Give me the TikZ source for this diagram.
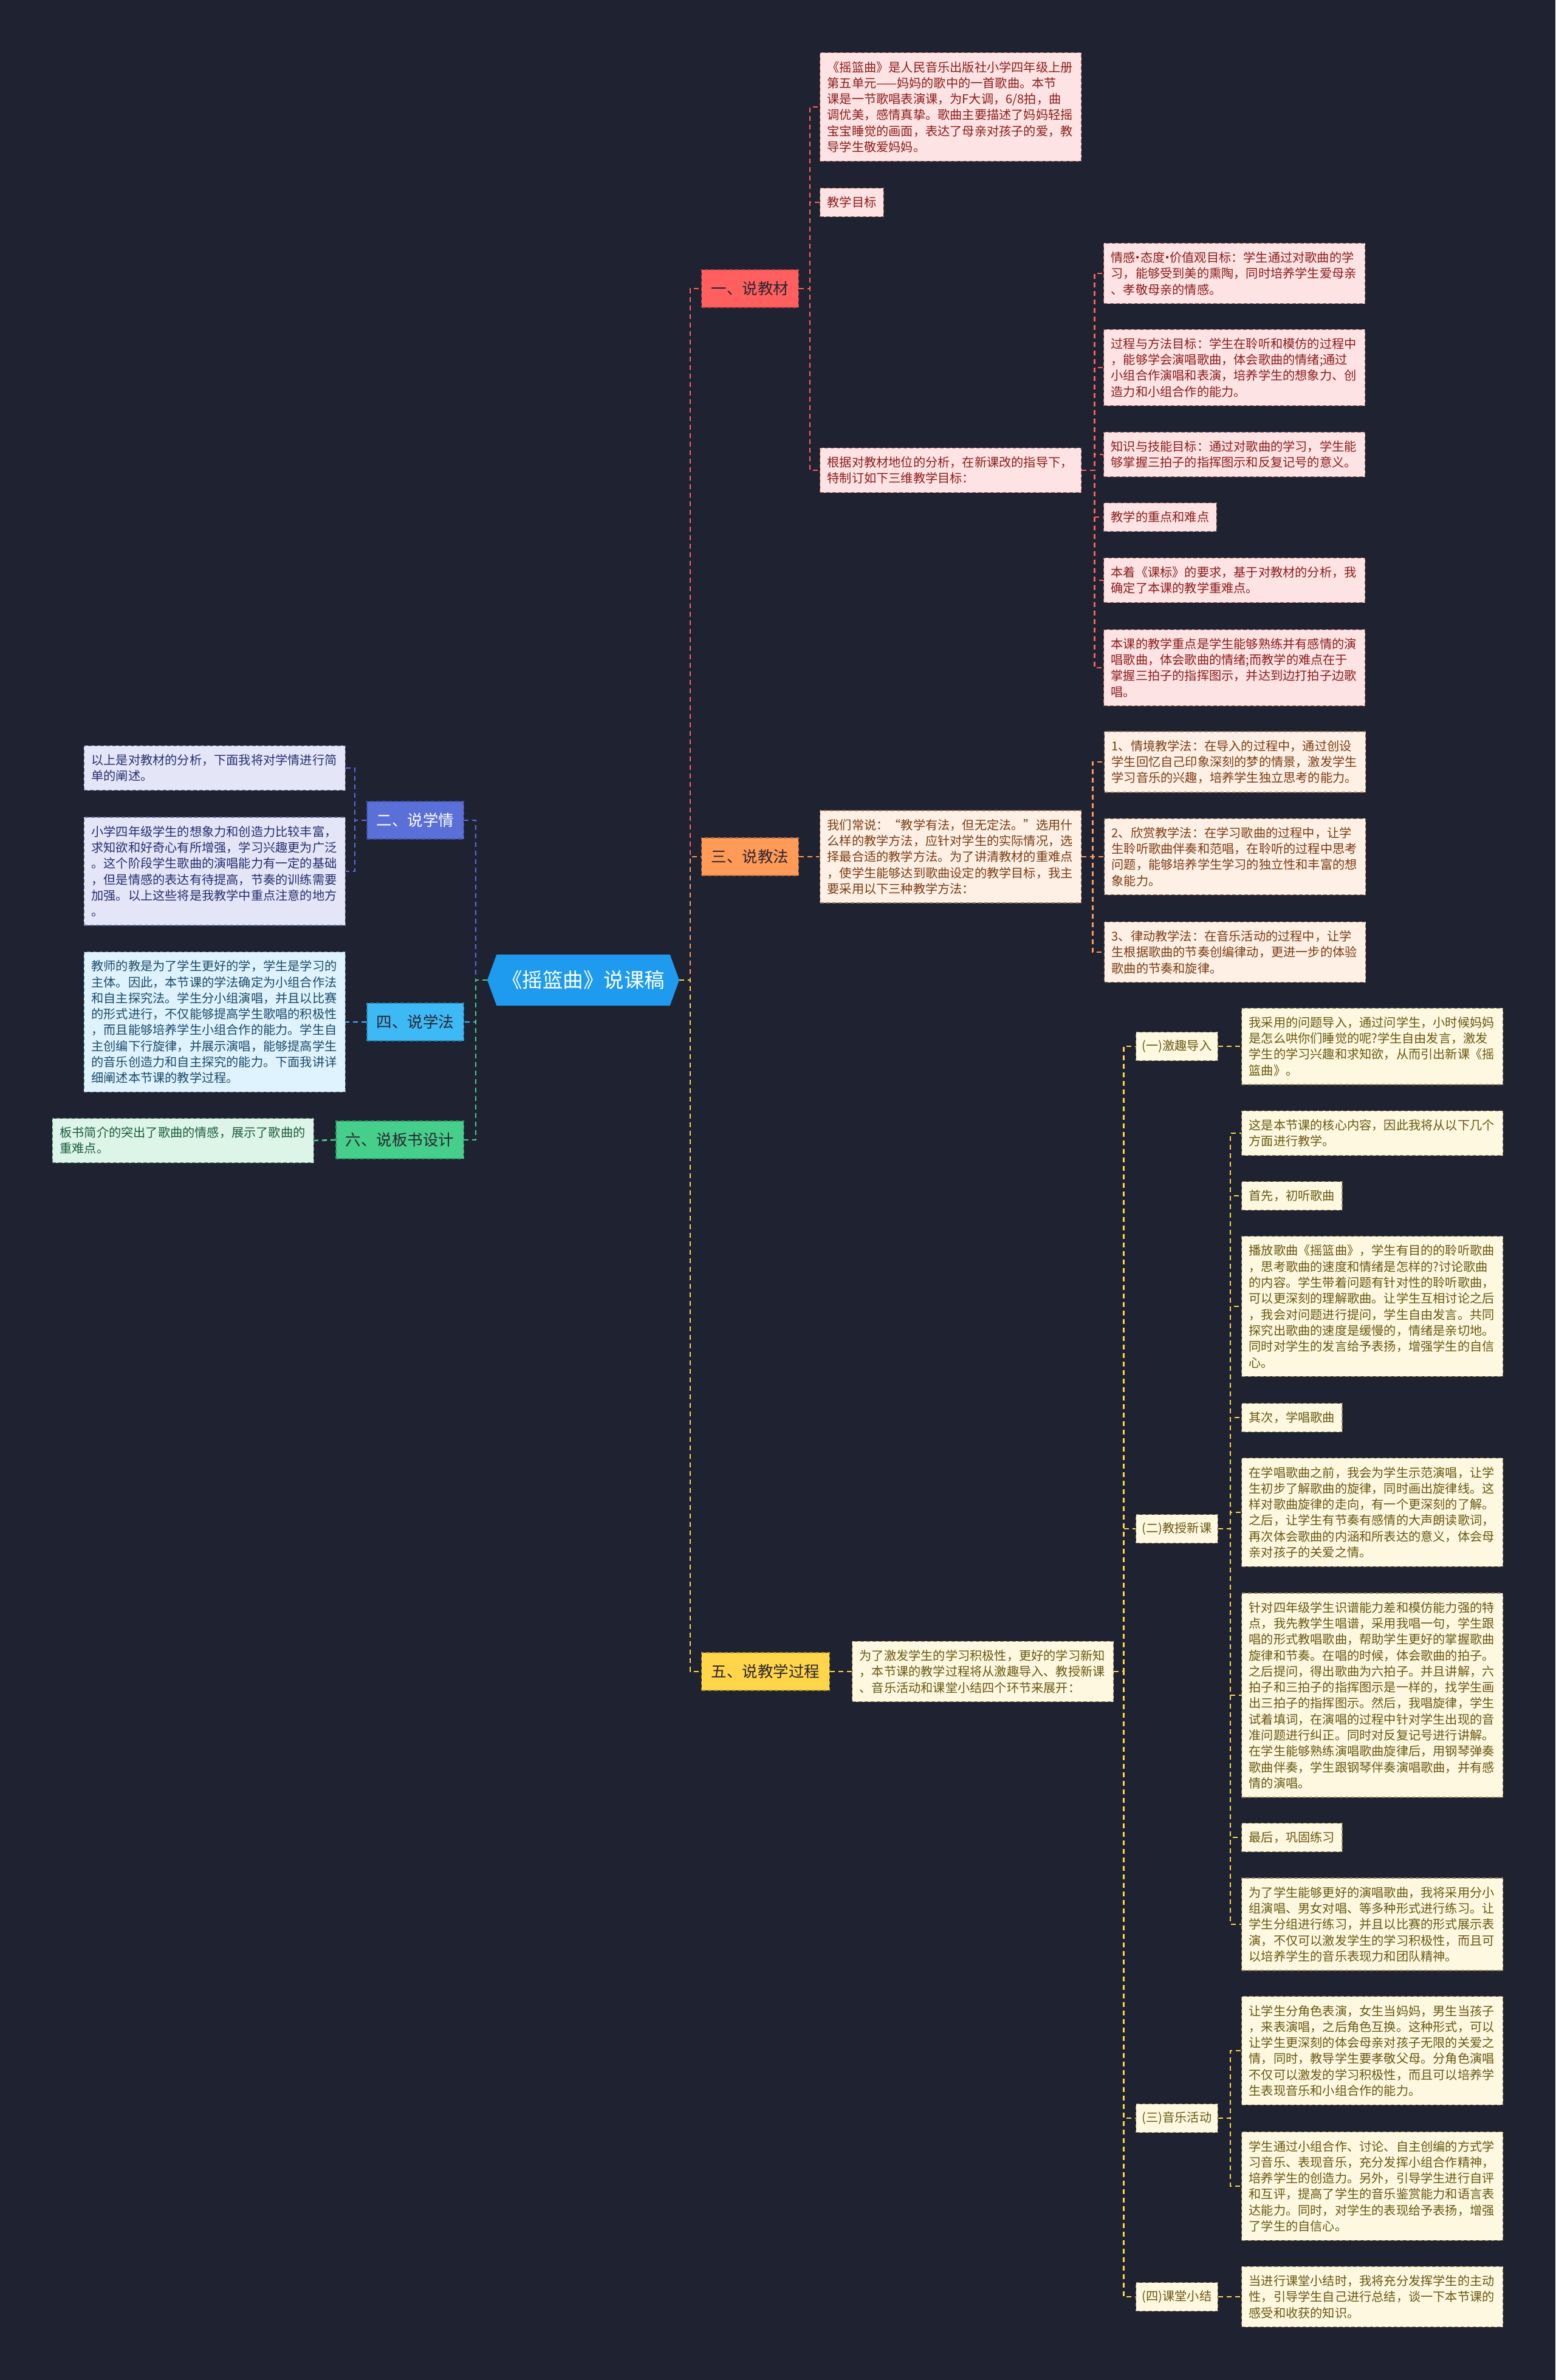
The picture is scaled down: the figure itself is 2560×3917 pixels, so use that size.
\documentclass[tikz,border=0pt]{standalone}
\usepackage{fontspec}
\setmainfont{Noto Sans CJK SC}
\usepackage{tikz}
\usetikzlibrary{shapes.symbols}
\usepackage{xcolor}
\definecolor{MapBg}{HTML}{1F2230}
\definecolor{MapRoot}{HTML}{1E9BEF}
\definecolor{MapDark}{HTML}{2A2530}
\definecolor{MapRed}{HTML}{FF5F5F}
\definecolor{MapRedPale}{HTML}{FDE3E3}
\definecolor{MapRedInk}{HTML}{8C1D1D}
\definecolor{MapOrange}{HTML}{FF9A57}
\definecolor{MapOrangePale}{HTML}{FEF0E5}
\definecolor{MapOrangeInk}{HTML}{7B3C12}
\definecolor{MapYellow}{HTML}{FFD54A}
\definecolor{MapYellowPale}{HTML}{FEF8E0}
\definecolor{MapYellowInk}{HTML}{6A5812}
\definecolor{MapBlue}{HTML}{5A6FD8}
\definecolor{MapBluePale}{HTML}{E4E6F8}
\definecolor{MapBlueInk}{HTML}{262E6E}
\definecolor{MapSky}{HTML}{3DB9F6}
\definecolor{MapSkyPale}{HTML}{DEF3FD}
\definecolor{MapSkyInk}{HTML}{1B4A6C}
\definecolor{MapGreen}{HTML}{46CF8B}
\definecolor{MapGreenPale}{HTML}{DCF5E8}
\definecolor{MapGreenInk}{HTML}{1C5C3A}
\newcommand{\rootsize}{\fontsize{33.5pt}{40pt}\selectfont}
\newcommand{\topicsize}{\fontsize{25.5pt}{30pt}\selectfont}
\newcommand{\leafsize}{\fontsize{20.2pt}{26.3pt}\selectfont}
\newcommand{\middot}{\makebox[0.4em]{·}}
\tikzset{
    % Box styles
    central/.style={
        signal,
        signal to=west and east,
        signal pointer angle=140,
        fill=MapRoot,
        text=white,
        font=\rootsize,
        minimum width=316pt,
        minimum height=84pt,
        inner xsep=0pt
    },
    topic/.style={
        rectangle,
        draw,
        dash pattern=on 6pt off 4pt,
        line width=1.4pt,
        font=\topicsize,
        text=MapDark,
        inner xsep=16pt,
        inner ysep=0pt,
        minimum height=62pt
    },
    subtopic/.style={
        rectangle,
        draw,
        dash pattern=on 6pt off 4pt,
        line width=1.2pt,
        font=\leafsize,
        inner xsep=10pt,
        inner ysep=0pt,
        minimum height=47pt
    },
    detail/.style={
        rectangle,
        draw,
        dash pattern=on 6pt off 4pt,
        line width=1.2pt,
        font=\leafsize,
        align=left,
        text width=406pt,
        inner xsep=12pt,
        inner ysep=14pt
    },
    shortdetail/.style={
        rectangle,
        draw,
        dash pattern=on 6pt off 4pt,
        line width=1.2pt,
        font=\leafsize,
        inner xsep=12pt,
        inner ysep=0pt,
        minimum height=47pt
    },
    % Colour sets
    redpart/.style={fill=MapRedPale, draw=MapRedInk!70, text=MapRedInk},
    orangepart/.style={fill=MapOrangePale, draw=MapOrangeInk!70, text=MapOrangeInk},
    yellowpart/.style={fill=MapYellowPale, draw=MapYellowInk!70, text=MapYellowInk},
    bluepart/.style={fill=MapBluePale, draw=MapBlueInk!70, text=MapBlueInk},
    skypart/.style={fill=MapSkyPale, draw=MapSkyInk!70, text=MapSkyInk},
    greenpart/.style={fill=MapGreenPale, draw=MapGreenInk!70, text=MapGreenInk},
    % Connector style - dashed elbows
    link/.style={
        line width=2.6pt,
        dash pattern=on 8pt off 6pt
    }
}

\begin{document}
\begin{tikzpicture}[x=1pt, y=-1pt]
    \path[use as bounding box, fill=MapBg] (0,0) rectangle (2560,3917);

    \node[central] (root) at (960,1613) {《摇篮曲》说课稿};
    \coordinate (rt) at (1136,1613);
    \coordinate (lt) at (783,1613);

    % Main branches
    \node[topic, fill=MapRed, draw=MapRed!70!black, anchor=west] (k1) at (1154,475) {一、说教材};
    \node[topic, fill=MapOrange, draw=MapOrange!70!black, anchor=west] (k3) at (1154,1410) {三、说教法};
    \node[topic, fill=MapYellow, draw=MapYellow!70!black, anchor=west] (k5) at (1154,2751) {五、说教学过程};
    \node[topic, fill=MapBlue, draw=MapBlue!70!black, text=white, anchor=east] (k2) at (764,1350) {二、说学情};
    \node[topic, fill=MapSky, draw=MapSky!70!black, anchor=east] (k4) at (764,1682) {四、说学法};
    \node[topic, fill=MapGreen, draw=MapGreen!70!black, anchor=east] (k6) at (764,1876) {六、说板书设计};

    \draw[link, MapRed] (root.east) -- (rt) |- (k1.west);
    \draw[link, MapOrange] (root.east) -- (rt) |- (k3.west);
    \draw[link, MapYellow] (root.east) -- (rt) |- (k5.west);
    \draw[link, MapBlue] (root.west) -- (lt) |- (k2.east);
    \draw[link, MapSky] (root.west) -- (lt) |- (k4.east);
    \draw[link, MapGreen] (root.west) -- (lt) |- (k6.east);

    % 一、说教材
    \node[detail, redpart, anchor=west] (a1) at (1349,176) {《摇篮曲》是人民音乐出版社小学四年级上册\\第五单元——妈妈的歌中的一首歌曲。本节\\课是一节歌唱表演课，为F大调，6/8拍，曲\\调优美，感情真挚。歌曲主要描述了妈妈轻摇\\宝宝睡觉的画面，表达了母亲对孩子的爱，教\\导学生敬爱妈妈。};
    \node[shortdetail, redpart, anchor=west] (a2) at (1349,333) {教学目标};
    \node[detail, redpart, anchor=west] (a3) at (1349,774) {根据对教材地位的分析，在新课改的指导下，\\特制订如下三维教学目标：};
    \node[detail, redpart, anchor=west] (b1) at (1816,450) {情感\middot 态度\middot 价值观目标：学生通过对歌曲的学\\习，能够受到美的熏陶，同时培养学生爱母亲\\、孝敬母亲的情感。};
    \node[detail, redpart, anchor=west] (b2) at (1816,605) {过程与方法目标：学生在聆听和模仿的过程中\\，能够学会演唱歌曲，体会歌曲的情绪;通过\\小组合作演唱和表演，培养学生的想象力、创\\造力和小组合作的能力。};
    \node[detail, redpart, anchor=west] (b3) at (1816,748) {知识与技能目标：通过对歌曲的学习，学生能\\够掌握三拍子的指挥图示和反复记号的意义。};
    \node[shortdetail, redpart, anchor=west] (b4) at (1816,851) {教学的重点和难点};
    \node[detail, redpart, anchor=west] (b5) at (1816,955) {本着《课标》的要求，基于对教材的分析，我\\确定了本课的教学重难点。};
    \node[detail, redpart, anchor=west] (b6) at (1816,1099) {本课的教学重点是学生能够熟练并有感情的演\\唱歌曲，体会歌曲的情绪;而教学的难点在于\\掌握三拍子的指挥图示，并达到边打拍子边歌\\唱。};

    \foreach \n in {a1,a2,a3}
        \draw[link, MapRed] (k1.east) -- ++(18,0) |- (\n.west);
    \foreach \n in {b1,b2,b3,b4,b5,b6}
        \draw[link, MapRed] (a3.east) -- ++(21,0) |- (\n.west);

    % 三、说教法
    \node[detail, orangepart, anchor=west] (c0) at (1349,1410) {我们常说：“教学有法，但无定法。”选用什\\么样的教学方法，应针对学生的实际情况，选\\择最合适的教学方法。为了讲清教材的重难点\\，使学生能够达到歌曲设定的教学目标，我主\\要采用以下三种教学方法：};
    \node[detail, orangepart, anchor=west] (c1) at (1817,1254) {1、情境教学法：在导入的过程中，通过创设\\学生回忆自己印象深刻的梦的情景，激发学生\\学习音乐的兴趣，培养学生独立思考的能力。};
    \node[detail, orangepart, anchor=west] (c2) at (1817,1410) {2、欣赏教学法：在学习歌曲的过程中，让学\\生聆听歌曲伴奏和范唱，在聆听的过程中思考\\问题，能够培养学生学习的独立性和丰富的想\\象能力。};
    \node[detail, orangepart, anchor=west] (c3) at (1817,1567) {3、律动教学法：在音乐活动的过程中，让学\\生根据歌曲的节奏创编律动，更进一步的体验\\歌曲的节奏和旋律。};

    \draw[link, MapOrange] (k3.east) -- (c0.west);
    \foreach \n in {c1,c2,c3}
        \draw[link, MapOrange] (c0.east) -- ++(18,0) |- (\n.west);

    % 五、说教学过程
    \node[detail, yellowpart, anchor=west] (e0) at (1402,2751) {为了激发学生的学习积极性，更好的学习新知\\，本节课的教学过程将从激趣导入、教授新课\\、音乐活动和课堂小结四个环节来展开：};
    \node[subtopic, yellowpart, anchor=west] (s1) at (1869,1722) {(一)激趣导入};
    \node[subtopic, yellowpart, anchor=west] (s2) at (1869,2516) {(二)教授新课};
    \node[subtopic, yellowpart, anchor=west] (s3) at (1869,3486) {(三)音乐活动};
    \node[subtopic, yellowpart, anchor=west] (s4) at (1869,3780) {(四)课堂小结};

    \node[detail, yellowpart, anchor=west] (t1) at (2043,1722) {我采用的问题导入，通过问学生，小时候妈妈\\是怎么哄你们睡觉的呢?学生自由发言，激发\\学生的学习兴趣和求知欲，从而引出新课《摇\\篮曲》。};

    \node[detail, yellowpart, anchor=west] (u1) at (2043,1865) {这是本节课的核心内容，因此我将从以下几个\\方面进行教学。};
    \node[shortdetail, yellowpart, anchor=west] (u2) at (2043,1968) {首先，初听歌曲};
    \node[detail, yellowpart, anchor=west] (u3) at (2043,2150) {播放歌曲《摇篮曲》，学生有目的的聆听歌曲\\，思考歌曲的速度和情绪是怎样的?讨论歌曲\\的内容。学生带着问题有针对性的聆听歌曲，\\可以更深刻的理解歌曲。让学生互相讨论之后\\，我会对问题进行提问，学生自由发言。共同\\探究出歌曲的速度是缓慢的，情绪是亲切地。\\同时对学生的发言给予表扬，增强学生的自信\\心。};
    \node[shortdetail, yellowpart, anchor=west] (u4) at (2043,2333) {其次，学唱歌曲};
    \node[detail, yellowpart, anchor=west] (u5) at (2043,2489) {在学唱歌曲之前，我会为学生示范演唱，让学\\生初步了解歌曲的旋律，同时画出旋律线。这\\样对歌曲旋律的走向，有一个更深刻的了解。\\之后，让学生有节奏有感情的大声朗读歌词，\\再次体会歌曲的内涵和所表达的意义，体会母\\亲对孩子的关爱之情。};
    \node[detail, yellowpart, anchor=west] (u6) at (2043,2790) {针对四年级学生识谱能力差和模仿能力强的特\\点，我先教学生唱谱，采用我唱一句，学生跟\\唱的形式教唱歌曲，帮助学生更好的掌握歌曲\\旋律和节奏。在唱的时候，体会歌曲的拍子。\\之后提问，得出歌曲为六拍子。并且讲解，六\\拍子和三拍子的指挥图示是一样的，找学生画\\出三拍子的指挥图示。然后，我唱旋律，学生\\试着填词，在演唱的过程中针对学生出现的音\\准问题进行纠正。同时对反复记号进行讲解。\\在学生能够熟练演唱歌曲旋律后，用钢琴弹奏\\歌曲伴奏，学生跟钢琴伴奏演唱歌曲，并有感\\情的演唱。};
    \node[shortdetail, yellowpart, anchor=west] (u7) at (2043,3024) {最后，巩固练习};
    \node[detail, yellowpart, anchor=west] (u8) at (2043,3167) {为了学生能够更好的演唱歌曲，我将采用分小\\组演唱、男女对唱、等多种形式进行练习。让\\学生分组进行练习，并且以比赛的形式展示表\\演，不仅可以激发学生的学习积极性，而且可\\以培养学生的音乐表现力和团队精神。};

    \node[detail, yellowpart, anchor=west] (v1) at (2043,3375) {让学生分角色表演，女生当妈妈，男生当孩子\\，来表演唱，之后角色互换。这种形式，可以\\让学生更深刻的体会母亲对孩子无限的关爱之\\情，同时，教导学生要孝敬父母。分角色演唱\\不仅可以激发的学习积极性，而且可以培养学\\生表现音乐和小组合作的能力。};
    \node[detail, yellowpart, anchor=west] (v2) at (2043,3598) {学生通过小组合作、讨论、自主创编的方式学\\习音乐、表现音乐，充分发挥小组合作精神，\\培养学生的创造力。另外，引导学生进行自评\\和互评，提高了学生的音乐鉴赏能力和语言表\\达能力。同时，对学生的表现给予表扬，增强\\了学生的自信心。};

    \node[detail, yellowpart, anchor=west] (w1) at (2043,3780) {当进行课堂小结时，我将充分发挥学生的主动\\性，引导学生自己进行总结，谈一下本节课的\\感受和收获的知识。};

    \draw[link, MapYellow] (k5.east) -- (e0.west);
    \foreach \n in {s1,s2,s3,s4}
        \draw[link, MapYellow] (e0.east) -- ++(16,0) |- (\n.west);
    \draw[link, MapYellow] (s1.east) -- (t1.west);
    \foreach \n in {u1,u2,u3,u4,u5,u6,u7,u8}
        \draw[link, MapYellow] (s2.east) -- ++(20,0) |- (\n.west);
    \foreach \n in {v1,v2}
        \draw[link, MapYellow] (s3.east) -- ++(20,0) |- (\n.west);
    \draw[link, MapYellow] (s4.east) -- (w1.west);

    % 二、说学情
    \node[detail, bluepart, anchor=east] (l21) at (569,1264) {以上是对教材的分析，下面我将对学情进行简\\单的阐述。};
    \node[detail, bluepart, anchor=east] (l22) at (569,1434) {小学四年级学生的想象力和创造力比较丰富，\\求知欲和好奇心有所增强，学习兴趣更为广泛\\。这个阶段学生歌曲的演唱能力有一定的基础\\，但是情感的表达有待提高，节奏的训练需要\\加强。以上这些将是我教学中重点注意的地方\\。};
    \foreach \n in {l21,l22}
        \draw[link, MapBlue] (k2.west) -- ++(-19,0) |- (\n.east);

    % 四、说学法
    \node[detail, skypart, anchor=east] (l41) at (569,1682) {教师的教是为了学生更好的学，学生是学习的\\主体。因此，本节课的学法确定为小组合作法\\和自主探究法。学生分小组演唱，并且以比赛\\的形式进行，不仅能够提高学生歌唱的积极性\\，而且能够培养学生小组合作的能力。学生自\\主创编下行旋律，并展示演唱，能够提高学生\\的音乐创造力和自主探究的能力。下面我讲详\\细阐述本节课的教学过程。};
    \draw[link, MapSky] (k4.west) -- (l41.east);

    % 六、说板书设计
    \node[detail, greenpart, anchor=east] (l61) at (517,1877) {板书简介的突出了歌曲的情感，展示了歌曲的\\重难点。};
    \draw[link, MapGreen] (k6.west) -- (l61.east);
\end{tikzpicture}
\end{document}
